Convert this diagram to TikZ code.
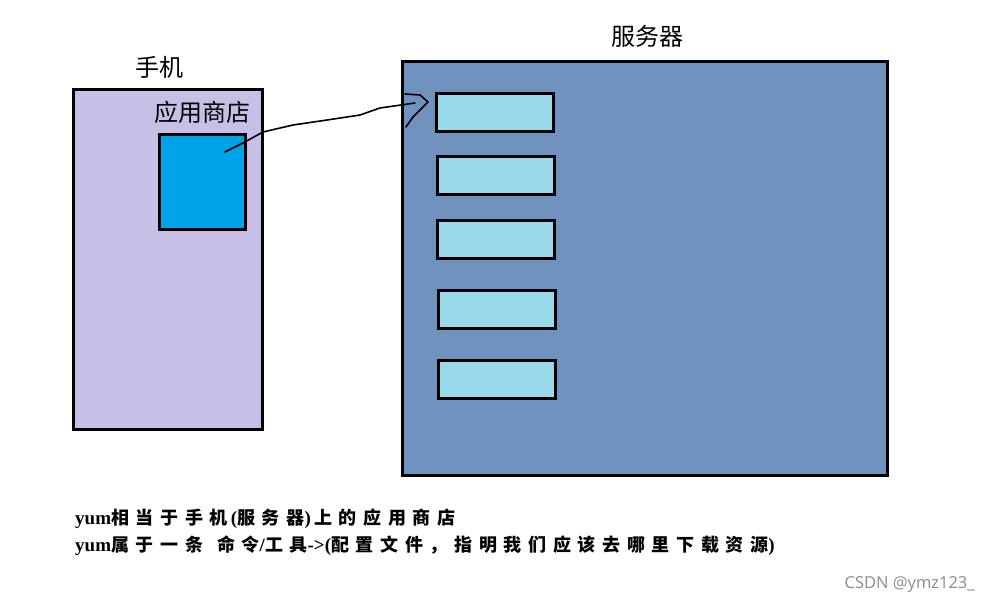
\documentclass[tikz,border=0pt]{standalone}
\usepackage{fontspec}
\setmainfont{Noto Sans CJK SC}
\newfontfamily\cjk{Noto Sans CJK SC}
\newfontfamily\notefont[LetterSpace=37]{Noto Sans CJK SC}
\newfontfamily\latinfont{Liberation Serif}
\newfontfamily\wm{Open Sans}
\newcommand{\lat}[1]{{\latinfont\bfseries\fontsize{19}{21}\selectfont #1}}
\begin{document}
\begin{tikzpicture}[x=1pt,y=-1pt,
  box/.style={draw=black,line width=3pt,inner sep=0pt,anchor=north west},
  slot/.style={box,fill=slotc,minimum width=117pt,minimum height=38pt},
  lbl/.style={font=\cjk\fontsize{24}{27}\selectfont,inner sep=0pt},
  note/.style={font=\notefont\bfseries\fontsize{18}{21}\selectfont,inner sep=0pt,anchor=west}]
\definecolor{phonec}{HTML}{C8BFE7}
\definecolor{appc}{HTML}{00A2E8}
\definecolor{serverc}{HTML}{7092BE}
\definecolor{slotc}{HTML}{99D9EA}
\useasboundingbox (0,0) rectangle (991,605);
% phone
\node[box,fill=phonec,minimum width=189pt,minimum height=340pt] (phone) at (72,88) {};
\node[lbl] (phonelbl) at (159,67) {手机};
\node[box,fill=appc,minimum width=86pt,minimum height=95pt] (app) at (158,133) {};
\node[lbl] (applbl) at (202,112) {应用商店};
% server
\node[box,fill=serverc,minimum width=485pt,minimum height=414pt] (server) at (401,60) {};
\node[lbl] (serverlbl) at (647,36) {服务器};
\node[slot] (s1) at (435,92) {};
\node[slot] (s2) at (436,155) {};
\node[slot] (s3) at (436,219) {};
\node[slot] (s4) at (437,289) {};
\node[slot] (s5) at (437,359) {};
% hand-drawn connector
\coordinate (c0) at (225,152);
\coordinate (c1) at (415,103);
\draw[line width=1.6pt,line join=round,line cap=round] (c0) -- (243,143) -- (263,132) -- (293,125) -- (327,120) -- (360,115) -- (380,108) -- (c1);
\draw[line width=1.6pt,line join=round,line cap=round] (405,94) -- (420,95) -- (428,102) -- (420,110) -- (413,117) -- (406,127);
% notes
\node[note] (n1) at (75,519) {\lat{yum}相当于手机\lat{\,(}服务器\lat{)\,}上的应用商店};
\node[note] (n2) at (75,546) {\lat{yum}属于一条\hspace{14pt}命令\lat{/}工具\lat{->(}配置文件，指明我们应该去哪里下载资源\lat{)}};
\node[font=\wm\fontsize{16.5}{19}\selectfont,text=black!45,anchor=east,inner sep=0pt] (wm) at (975,585) {CSDN @ymz123\_};
\end{tikzpicture}
\end{document}
